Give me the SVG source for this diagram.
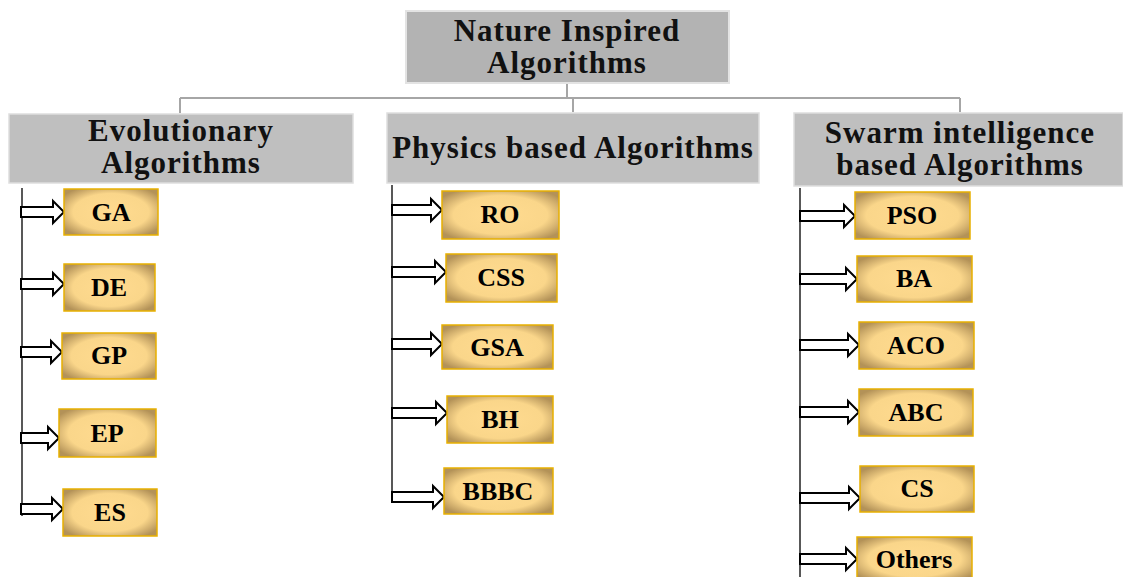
<svg xmlns="http://www.w3.org/2000/svg" width="1123" height="577" viewBox="0 0 1123 577">
<style>
.cat{fill:#bfbfbf;stroke:#dedede;stroke-width:1.5}
.top{fill:#b3b3b3;stroke:#e3e3e3;stroke-width:2}
.ht{font-family:"Liberation Serif",serif;font-weight:bold;font-size:31px;fill:#111;text-anchor:middle;letter-spacing:1px}
.nd{fill:url(#g);stroke:#e8b000;stroke-width:1.5}
.nt{font-family:"Liberation Serif",serif;font-weight:bold;font-size:26px;fill:#000;text-anchor:middle}
.ln{stroke:#a6a6a6;stroke-width:2;fill:none}
.vl{stroke:#222;stroke-width:1.5;fill:none}
.ar{fill:#fff;stroke:#000;stroke-width:2;stroke-linejoin:miter}
</style>
<defs>
<radialGradient id="g" cx="0.5" cy="0.5" r="0.62">
<stop offset="0" stop-color="#ffdb90"/>
<stop offset="0.65" stop-color="#fad68a"/>
<stop offset="1" stop-color="#b39258"/>
</radialGradient>
</defs>
<g id="connectors">
<path class="ln" d="M567 83V98M180 98H960M180 98V113M573 98V112M960 98V112"/>
<path class="vl" d="M22 188V516M392 185V503M800 188V577"/>
<polygon class="ar" points="21,207 53,207 53,201 64,212 53,223 53,217 21,217"/>
<polygon class="ar" points="21,279 53,279 53,273 64,284 53,295 53,289 21,289"/>
<polygon class="ar" points="21,347 51,347 51,341 62,352 51,363 51,357 21,357"/>
<polygon class="ar" points="21,433 48,433 48,427 59,438 48,449 48,443 21,443"/>
<polygon class="ar" points="21,504 52,504 52,498 63,509 52,520 52,514 21,514"/>
<polygon class="ar" points="392,205 431,205 431,199 442,210 431,221 431,215 392,215"/>
<polygon class="ar" points="392,267 435,267 435,261 446,272 435,283 435,277 392,277"/>
<polygon class="ar" points="392,339 431,339 431,333 442,344 431,355 431,349 392,349"/>
<polygon class="ar" points="392,408 436,408 436,402 447,413 436,424 436,418 392,418"/>
<polygon class="ar" points="392,492 433,492 433,486 444,497 433,508 433,502 392,502"/>
<polygon class="ar" points="800,211 844,211 844,205 855,216 844,227 844,221 800,221"/>
<polygon class="ar" points="800,274 846,274 846,268 857,279 846,290 846,284 800,284"/>
<polygon class="ar" points="800,340 848,340 848,334 859,345 848,356 848,350 800,350"/>
<polygon class="ar" points="800,407 848,407 848,401 859,412 848,423 848,417 800,417"/>
<polygon class="ar" points="800,493 849,493 849,487 860,498 849,509 849,503 800,503"/>
<polygon class="ar" points="800,554 846,554 846,548 857,559 846,570 846,564 800,564"/>
</g>
<g id="root"><rect class="top" x="406" y="11" width="323" height="72"/><text class="ht" x="567" y="41" font-size="32">Nature Inspired</text><text class="ht" x="567" y="73" font-size="32">Algorithms</text></g>
<g id="evo"><rect class="cat" x="9" y="114" width="344" height="69"/><text class="ht" x="181" y="141">Evolutionary</text><text class="ht" x="181" y="173">Algorithms</text></g>
<g id="phys"><rect class="cat" x="387" y="113" width="372" height="70"/><text class="ht" x="573" y="158">Physics based Algorithms</text></g>
<g id="swarm"><rect class="cat" x="794" y="113" width="329" height="73"/><text class="ht" x="960" y="143">Swarm intelligence</text><text class="ht" x="960" y="175">based Algorithms</text></g>
<g id="GA"><rect class="nd" x="64" y="189" width="94" height="46"/><text class="nt" x="111" y="221">GA</text></g>
<g id="DE"><rect class="nd" x="64" y="264" width="91" height="47"/><text class="nt" x="109" y="296">DE</text></g>
<g id="GP"><rect class="nd" x="62" y="333" width="94" height="46"/><text class="nt" x="109" y="364">GP</text></g>
<g id="EP"><rect class="nd" x="59" y="409" width="97" height="48"/><text class="nt" x="107" y="442">EP</text></g>
<g id="ES"><rect class="nd" x="63" y="489" width="94" height="47"/><text class="nt" x="110" y="521">ES</text></g>
<g id="RO"><rect class="nd" x="442" y="191" width="117" height="48"/><text class="nt" x="500" y="223">RO</text></g>
<g id="CSS"><rect class="nd" x="446" y="254" width="111" height="48"/><text class="nt" x="501" y="286">CSS</text></g>
<g id="GSA"><rect class="nd" x="442" y="325" width="111" height="44"/><text class="nt" x="497" y="356">GSA</text></g>
<g id="BH"><rect class="nd" x="447" y="396" width="106" height="47"/><text class="nt" x="500" y="428">BH</text></g>
<g id="BBBC"><rect class="nd" x="444" y="468" width="109" height="46"/><text class="nt" x="498" y="500">BBBC</text></g>
<g id="PSO"><rect class="nd" x="855" y="192" width="115" height="47"/><text class="nt" x="912" y="224">PSO</text></g>
<g id="BA"><rect class="nd" x="857" y="256" width="115" height="46"/><text class="nt" x="914" y="287">BA</text></g>
<g id="ACO"><rect class="nd" x="859" y="322" width="115" height="47"/><text class="nt" x="916" y="354">ACO</text></g>
<g id="ABC"><rect class="nd" x="859" y="389" width="114" height="47"/><text class="nt" x="916" y="421">ABC</text></g>
<g id="CS"><rect class="nd" x="860" y="466" width="114" height="46"/><text class="nt" x="917" y="497">CS</text></g>
<g id="Others"><rect class="nd" x="857" y="537" width="115" height="44"/><text class="nt" x="914" y="568">Others</text></g>
</svg>
